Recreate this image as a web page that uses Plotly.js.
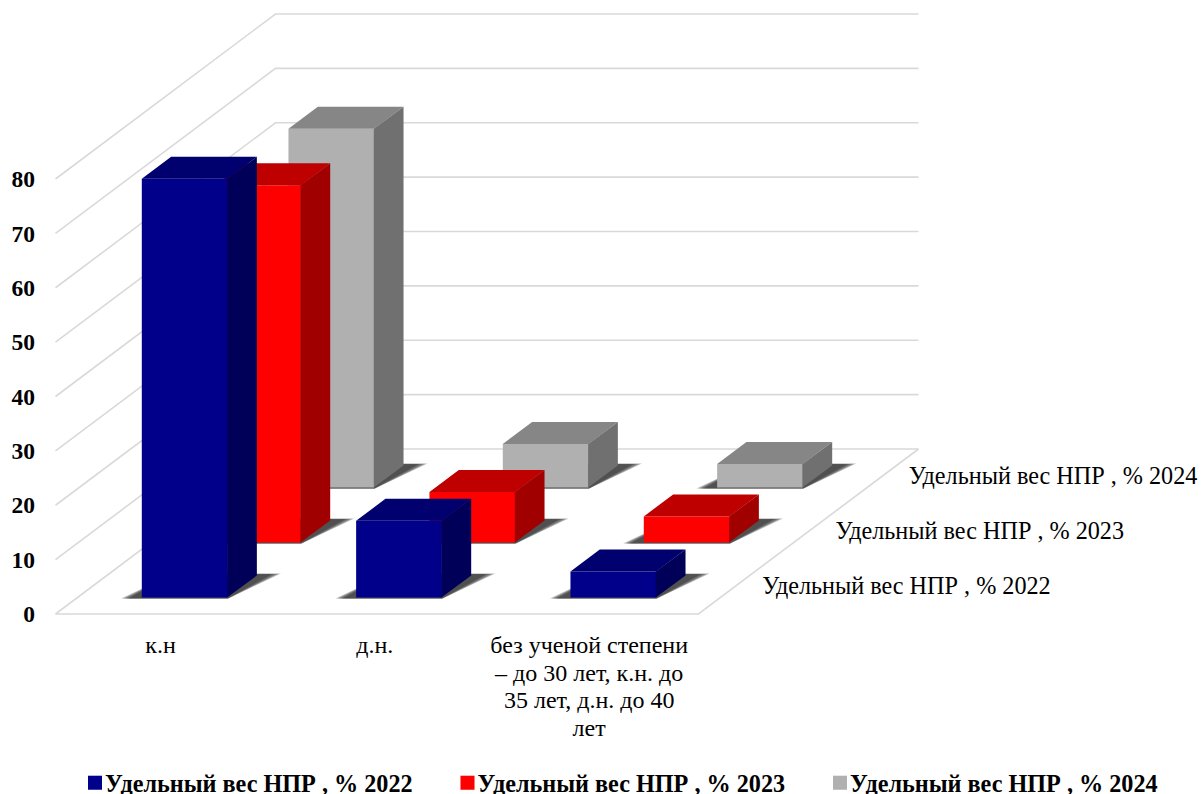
<!DOCTYPE html>
<html lang="ru">
<head>
<meta charset="utf-8">
<title>Удельный вес НПР</title>
<script src="https://cdn.plot.ly/plotly-3.0.1.min.js"></script>
<style>html,body{margin:0;padding:0;background:#fff;overflow:hidden}#chart{width:1204px;height:794px}</style>
</head>
<body>
<div id="chart"></div>
<script>
// ---- data ----
const categories = ['к.н', 'д.н.', 'без ученой степени<br>– до 30 лет, к.н. до<br>35 лет, д.н. до 40<br>лет'];
const seriesNames = ['Удельный вес НПР , % 2022', 'Удельный вес НПР , % 2023', 'Удельный вес НПР , % 2024'];
const values2022 = [77, 14.1, 4.8];
const values2023 = [65.7, 9.3, 4.8];
const values2024 = [66, 8, 4.3];
const valueTicks = [0, 10, 20, 30, 40, 50, 60, 70, 80];

// ---- style ----
const frontColors = ['#00008B', '#FF0000', '#B0B0B0'];
const topColors = ['#00006E', '#BF0000', '#868686'];
const sideColors = ['#000058', '#A00000', '#707070'];
const gridColor = '#D9D9D9';
const serif = '"Liberation Serif","Times New Roman",serif';

// ---- oblique projection: category units, value units, depth 0..1 ----
const W = 1204, H = 794, ORIGIN_X = 55.5, ORIGIN_Y = 614, CAT_PX = 214.33, VAL_PX = 5.4375;
const DEPTH_X = 220 / CAT_PX, DEPTH_Y = 165 / VAL_PX;
const LEFT = 36, BOTTOM = 30, PLOT_H = H - BOTTOM, PLOT_W = W - LEFT;
const N_CAT = categories.length, N_ROW = seriesNames.length;
const px = (c, d) => c + d * DEPTH_X;
const py = (v, d) => v + d * DEPTH_Y;

function polysTrace(polys, color, z) {
  const x = [], y = [];
  polys.forEach(p => { p.forEach(q => { x.push(px(q[0], q[2])); y.push(py(q[1], q[2])); });
    x.push(px(p[0][0], p[0][2])); y.push(py(p[0][1], p[0][2])); x.push(null); y.push(null); });
  return {type: 'scatter', mode: 'none', x, y, fill: 'toself', fillcolor: color, showlegend: false, hoverinfo: 'skip', zorder: z};
}
function lineTrace(segs) {
  const x = [], y = [];
  segs.forEach(s => { s.forEach(q => { x.push(px(q[0], q[2])); y.push(py(q[1], q[2])); }); x.push(null); y.push(null); });
  return {type: 'scatter', mode: 'lines', x, y, line: {color: gridColor, width: 1.6}, showlegend: false, hoverinfo: 'skip', zorder: 0, connectgaps: false};
}

const allValues = [values2022, values2023, values2024];
const traces = [];

// walls and floor
const segs = [];
valueTicks.forEach(v => { segs.push([[0, v, 0], [0, v, 1], [N_CAT, v, 1]]); });
segs.push([[0, 0, 0], [N_CAT, 0, 0], [N_CAT, 0, 1]]);
traces.push(lineTrace(segs));

// soft floor shadows, stacked translucent layers
for (let k = 5; k >= 1; k--) {
  const s = .5 + k * .1, polys = [];
  allValues.forEach((vals, r) => vals.forEach((v, i) => {
    const c0 = i + .3, c1 = i + .7, d0 = (r + .3) / N_ROW, d1 = (r + .7) / N_ROW;
    polys.push([[c0 - .09 * s, 0, d0 - .006], [c1 + .01 * s, 0, d0 - .006],
                [c1 + .1 * s, 0, d1 + .012 * s], [c0, 0, d1 + .012 * s]]);
  }));
  traces.push(polysTrace(polys, 'rgba(45,45,45,0.3)', 0));
}

// sides and tops, behind-to-front through zorder
allValues.forEach((vals, r) => {
  const z = N_ROW - r, d0 = (r + .3) / N_ROW, d1 = (r + .7) / N_ROW;
  const sides = [], tops = [];
  vals.forEach((v, i) => {
    const c0 = i + .3, c1 = i + .7;
    sides.push([[c1 - .002, 0, d0], [c1, 0, d1], [c1, v, d1], [c1 - .002, v, d0]]);
    tops.push([[c0, v, d0], [c1, v, d0], [c1, v, d1], [c0, v, d1]]);
  });
  traces.push(polysTrace(sides, sideColors[r], z));
  traces.push(polysTrace(tops, topColors[r], z));
});

// front faces are real bars; they carry the legend
allValues.forEach((vals, r) => {
  const d0 = (r + .3) / N_ROW;
  traces.push({
    type: 'bar', name: seriesNames[r], zorder: N_ROW - r,
    x: vals.map((v, i) => px(i + .5, d0)), y: vals,
    base: vals.map(() => py(0, d0)), width: .4,
    marker: {color: frontColors[r], line: {width: 0}}, hoverinfo: 'skip'
  });
});

// depth-axis labels
traces.push({
  type: 'scatter', mode: 'text', showlegend: false, hoverinfo: 'skip', zorder: 10, cliponaxis: false,
  x: seriesNames.map((n, r) => px(N_CAT + 27 / CAT_PX, (r + .5) / N_ROW)),
  y: seriesNames.map((n, r) => py(-.25, (r + .5) / N_ROW)),
  text: seriesNames, textposition: 'middle right',
  textfont: {family: serif, size: 24.2, color: '#000'}
});

const layout = {
  width: W, height: H, margin: {l: LEFT, r: 0, t: 0, b: BOTTOM, autoexpand: false},
  paper_bgcolor: '#fff', plot_bgcolor: 'rgba(0,0,0,0)', hovermode: false,
  barmode: 'overlay',
  xaxis: {
    range: [(LEFT - ORIGIN_X) / CAT_PX, (W - ORIGIN_X) / CAT_PX], autorange: false, fixedrange: true,
    showgrid: false, zeroline: false, showline: false, ticks: '',
    tickmode: 'array', tickvals: categories.map((c, i) => i + .49), ticktext: categories, tickangle: 0,
    tickfont: {family: serif, size: 24, color: '#000'},
    anchor: 'free', position: (PLOT_H - 628) / PLOT_H, automargin: false
  },
  yaxis: {
    range: [(ORIGIN_Y - PLOT_H) / VAL_PX, ORIGIN_Y / VAL_PX], autorange: false, fixedrange: true,
    showgrid: false, zeroline: false, showline: false, ticks: '', automargin: false,
    tickmode: 'array', tickvals: valueTicks, ticktext: valueTicks.map(String),
    tickfont: {family: serif, size: 23.5, color: '#000', weight: 'bold'}
  },
  showlegend: true,
  legend: {
    orientation: 'h', x: (65 - LEFT) / PLOT_W, xanchor: 'left', y: -(783 - PLOT_H) / PLOT_H, yanchor: 'middle',
    entrywidth: 327.5, entrywidthmode: 'pixels', traceorder: 'normal', bgcolor: 'rgba(0,0,0,0)',
    font: {family: serif, size: 24.2, color: '#000', weight: 'bold'}
  }
};

Plotly.newPlot('chart', traces, layout, {displayModeBar: false, staticPlot: true}).then(() => {
  document.querySelectorAll('.legend .legendsymbols').forEach(el => el.setAttribute('transform', 'translate(30,0)'));
  document.querySelectorAll('.legend .legendpoints path').forEach(el => el.setAttribute('transform', 'scale(1.17)'));
  // tighter line spacing of the multi-line category label
  document.querySelectorAll('.xtick text').forEach(t => {
    t.querySelectorAll('tspan.line').forEach((s, i) => s.setAttribute('dy', i * 27.6));
  });
});
</script>
</body>
</html>
